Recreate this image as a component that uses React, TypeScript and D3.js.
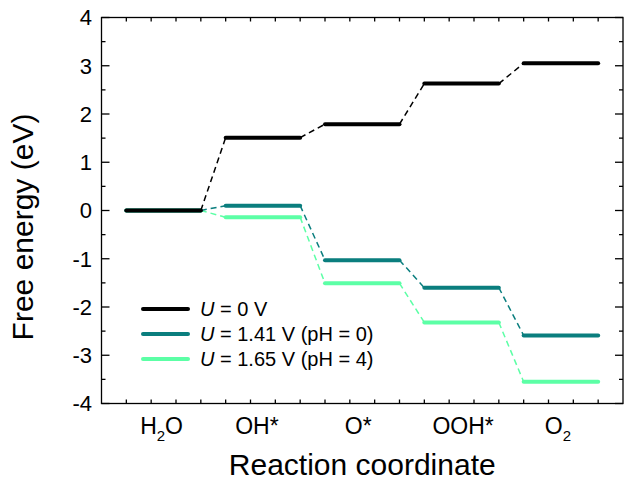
import React from "react";
import * as d3 from "d3";

const steps = ["H2O", "OH*", "O*", "OOH*", "O2"];
const stepStart = [1, 5, 9, 13, 17];
const stepEnd = [4, 8, 12, 16, 20];
const seriesNames = ["U = 0 V", "U = 1.41 V (pH = 0)", "U = 1.65 V (pH = 4)"];
const energyU0 = [0, 1.51, 1.79, 2.63, 3.05];
const energyU141 = [0, 0.1, -1.03, -1.6, -2.59];
const energyU165 = [0, -0.14, -1.51, -2.32, -3.55];
const seriesColors = ["#000000", "#0a7e7e", "#5cffa6"];
const yTicks = [-4, -3, -2, -1, 0, 1, 2, 3, 4];

const W = 624;
const H = 482;
const L = 101.5;
const R = 623;
const T = 17.5;
const B = 403.5;
const labelNudge = [-2, -6, -4, 1.5, -3];

export default function App() {
  const x = d3.scaleLinear().domain([0, 21]).range([L, R]);
  const y = d3.scaleLinear().domain([-4, 4]).range([B, T]);
  const series = [energyU0, energyU141, energyU165];
  const drawOrder = [2, 1, 0];
  const xMinor = d3.range(1, 21);
  const yMinor = d3.range(-3.5, 4, 1);
  const font = "Liberation Sans, Arial, sans-serif";

  const renderLabel = (s: string) => {
    const m = s.match(/^([A-Z]+)(2)(.*)$/);
    if (m) {
      return (
        <>
          {m[1]}
          <tspan fontSize={15} dy={7}>{m[2]}</tspan>
          <tspan dy={-7}>{m[3]}</tspan>
        </>
      );
    }
    return s;
  };

  const renderLegend = (s: string) => {
    const rest = s.slice(1);
    return (
      <>
        <tspan fontStyle="italic">U</tspan>
        {rest}
      </>
    );
  };

  return (
    <svg width={W} height={H} style={{ position: "absolute", left: 0, top: 0 }} fontFamily={font}>
      <rect x={0} y={0} width={W} height={H} fill="#fff" />
      {yTicks.map((t) => (
        <g key={"yt" + t}>
          <line x1={L} x2={L + 8} y1={y(t)} y2={y(t)} stroke="#000" strokeWidth={1.3} />
          <line x1={R} x2={R - 8} y1={y(t)} y2={y(t)} stroke="#000" strokeWidth={1.3} />
        </g>
      ))}
      {yMinor.map((t) => (
        <g key={"ym" + t}>
          <line x1={L} x2={L + 4} y1={y(t)} y2={y(t)} stroke="#000" strokeWidth={1.3} />
          <line x1={R} x2={R - 4} y1={y(t)} y2={y(t)} stroke="#000" strokeWidth={1.3} />
        </g>
      ))}
      {xMinor.map((t) => (
        <g key={"xm" + t}>
          <line x1={x(t)} x2={x(t)} y1={T} y2={T + 4} stroke="#000" strokeWidth={1.3} />
          <line x1={x(t)} x2={x(t)} y1={B} y2={B - 4} stroke="#000" strokeWidth={1.3} />
        </g>
      ))}
      <rect x={L} y={T} width={R - L} height={B - T} fill="none" stroke="#000" strokeWidth={1.3} />
      {yTicks.map((t) => (
        <text key={"yl" + t} x={92} y={y(t)} dy="0.36em" textAnchor="end" fontSize={22}>
          {t}
        </text>
      ))}
      {steps.map((s, i) => (
        <text key={s} x={x((stepStart[i] + stepEnd[i]) / 2) + labelNudge[i]} y={434} textAnchor="middle" fontSize={23}>
          {renderLabel(s)}
        </text>
      ))}
      <text x={(L + R) / 2} y={475} textAnchor="middle" fontSize={30}>
        Reaction coordinate
      </text>
      <text transform={`translate(33,227) rotate(-90)`} textAnchor="middle" fontSize={30}>
        Free energy (eV)
      </text>
      {drawOrder.map((si) => {
        const vals = series[si];
        const c = seriesColors[si];
        return (
          <g key={"s" + si}>
            {vals.slice(0, -1).map((v, i) => (
              <line
                key={"c" + i}
                x1={x(stepEnd[i])}
                y1={y(v)}
                x2={x(stepStart[i + 1])}
                y2={y(vals[i + 1])}
                stroke={c}
                strokeWidth={1.5}
                strokeDasharray="6,4"
              />
            ))}
            {vals.map((v, i) => (
              <line
                key={"l" + i}
                x1={x(stepStart[i])}
                x2={x(stepEnd[i])}
                y1={y(v)}
                y2={y(v)}
                stroke={c}
                strokeWidth={4}
                strokeLinecap="round"
              />
            ))}
          </g>
        );
      })}
      {seriesNames.map((n, i) => (
        <g key={"lg" + i}>
          <line x1={143} x2={188} y1={309 + i * 25} y2={309 + i * 25} stroke={seriesColors[i]} strokeWidth={4} strokeLinecap="round" />
          <text x={200} y={316 + i * 25} fontSize={20}>
            {renderLegend(n)}
          </text>
        </g>
      ))}
    </svg>
  );
}
